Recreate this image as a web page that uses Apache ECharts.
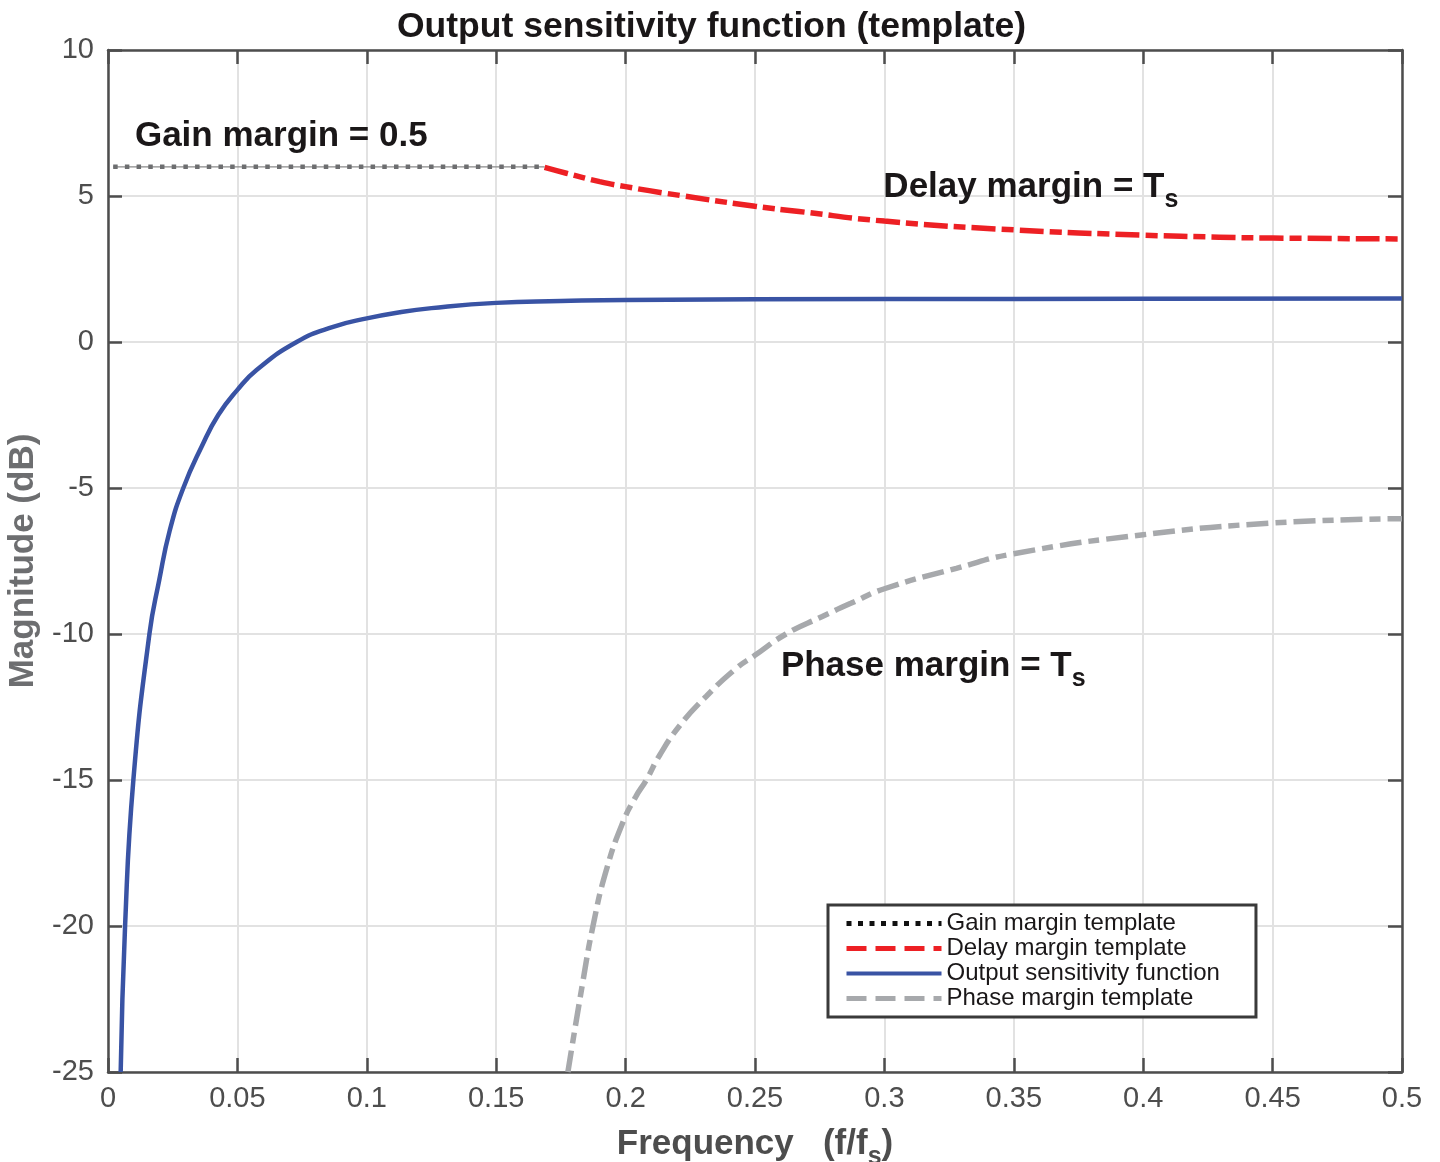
<!DOCTYPE html>
<html>
<head>
<meta charset="utf-8">
<title>Output sensitivity function (template)</title>
<script src="https://cdn.jsdelivr.net/npm/echarts@6/dist/echarts.min.js"></script>
<style>
  html, body { margin: 0; padding: 0; background: #fff; }
  #echarts { width: 1440px; height: 1162px; }
</style>
</head>
<body>
<div id="echarts"></div>
<script>
// values
var gainFreq = [0.002, 0.1687];
var gainMag  = [6, 6];

var delayFreq = [0.1687, 0.1771, 0.19, 0.2, 0.2157, 0.25, 0.267, 0.3, 0.35, 0.4, 0.4293, 0.45, 0.5];
var delayMag  = [5.98, 5.78, 5.49, 5.32, 5.09, 4.65, 4.47, 4.14, 3.84, 3.66, 3.59, 3.56, 3.53];

var sensFreq = [0.0049, 0.0066, 0.0098, 0.016, 0.0198, 0.0239, 0.0291, 0.0362, 0.0426, 0.05, 0.0574, 0.0729, 0.087, 0.1, 0.1127, 0.125, 0.15, 0.175, 0.2, 0.3, 0.4, 0.5];
var sensMag  = [-25, -20, -15, -10, -8.15, -6.44, -5, -3.58, -2.5, -1.64, -0.96, 0, 0.52, 0.81, 1.02, 1.16, 1.34, 1.4, 1.44, 1.47, 1.48, 1.49];

var phaseFreq = [0.1777, 0.1835, 0.1874, 0.1925, 0.199, 0.204, 0.208, 0.2131, 0.2208, 0.2312, 0.2427, 0.2498, 0.262, 0.276, 0.287, 0.3, 0.3278, 0.35, 0.4, 0.45, 0.5];
var phaseMag  = [-25, -21.9, -20, -18.1, -16.44, -15.56, -15, -14.16, -13.15, -12.13, -11.18, -10.74, -10, -9.4, -8.95, -8.45, -7.75, -7.25, -6.6, -6.2, -6.05];

var seriesNames = ['Gain margin template', 'Delay margin template', 'Output sensitivity function', 'Phase margin template'];

var noteFreq = [0.0104, 0.2996, 0.26];
var noteMag  = [7.04, 5.29, -11.11];
var noteText = ['Gain margin = 0.5', 'Delay margin = T{s|s}', 'Phase margin = T{s|s}'];

var xTicks = ['0', '0.05', '0.1', '0.15', '0.2', '0.25', '0.3', '0.35', '0.4', '0.45', '0.5'];

function pairs(xs, ys) {
    return xs.map(function (x, i) { return [x, ys[i]]; });
}

var FONT = '"Liberation Sans", Arial, Helvetica, sans-serif';
var AXIS = '#4d4d4d';
var INK = '#1a1718';

var myChart = echarts.init(document.getElementById('echarts'));

function axisBase(extra) {
    var a = {
        type: 'value',
        axisLine: { show: true, onZero: false, lineStyle: { color: AXIS, width: 2.5 } },
        axisTick: { show: true, inside: true, length: 14, lineStyle: { color: AXIS, width: 2.5 } },
        splitLine: { show: false },
        axisLabel: { show: false }
    };
    for (var k in extra) a[k] = extra[k];
    return a;
}

var option = {
    animation: false,
    textStyle: { fontFamily: FONT },
    title: {
        text: 'Output sensitivity function (template)',
        left: 392,
        top: 4,
        textStyle: { fontFamily: FONT, fontSize: 35.5, fontWeight: 'bold', color: INK }
    },
    grid: { left: 108, right: 38, top: 50, bottom: 90, containLabel: false, outerBoundsMode: 'none' },
    legend: {
        orient: 'vertical',
        left: 828,
        top: 905,
        itemWidth: 95,
        itemHeight: 14,
        itemGap: 0,
        padding: [6, 36, 6, 16],
        borderColor: '#3a3a3a',
        borderWidth: 3,
        backgroundColor: '#fff',
        itemStyle: { opacity: 0 },
        textStyle: { fontFamily: FONT, fontSize: 24, color: INK, lineHeight: 25 },
        data: [
            { name: seriesNames[0], itemStyle: { opacity: 0 }, lineStyle: { color: '#111', width: 5, type: [5, 6.5] } },
            { name: seriesNames[1], itemStyle: { opacity: 0 }, lineStyle: { color: '#ed2024', width: 5, type: [20, 9] } },
            { name: seriesNames[2], itemStyle: { opacity: 0 }, lineStyle: { color: '#3953a4', width: 4 } },
            { name: seriesNames[3], itemStyle: { opacity: 0 }, lineStyle: { color: '#a7a9ac', width: 5, type: [20, 9] } }
        ]
    },
    xAxis: [
        axisBase({
            min: 0, max: 0.5, interval: 0.05, position: 'bottom',
            splitLine: { show: true, lineStyle: { color: '#e2e2e2', width: 2 } },
            axisLabel: {
                show: true, margin: 12, fontSize: 29, color: AXIS, fontFamily: FONT,
                formatter: function (v) { return xTicks[Math.round(v / 0.05)]; }
            },
            name: 'Frequency   (f/f{s|s})',
            nameLocation: 'middle',
            nameGap: 37,
            nameTextStyle: {
                fontFamily: FONT, fontSize: 35, fontWeight: 'bold', color: AXIS, lineHeight: 52,
                rich: { s: { fontFamily: FONT, fontSize: 25, fontWeight: 'bold', color: AXIS, lineHeight: 22, verticalAlign: 'bottom' } }
            }
        }),
        axisBase({ min: 0, max: 0.5, interval: 0.05, position: 'top' })
    ],
    yAxis: [
        axisBase({
            min: -25, max: 10, interval: 5, position: 'left',
            splitLine: { show: true, lineStyle: { color: '#e2e2e2', width: 2 } },
            axisLabel: { show: true, margin: 14, fontSize: 29, color: AXIS, fontFamily: FONT },
            name: 'Magnitude (dB)',
            nameLocation: 'middle',
            nameGap: 61,
            nameTextStyle: { fontFamily: FONT, fontSize: 35, fontWeight: 'bold', color: '#6d6e70' }
        }),
        axisBase({ min: -25, max: 10, interval: 5, position: 'right' })
    ],
    series: [
        {
            name: seriesNames[0], type: 'line', symbol: 'none',
            data: pairs(gainFreq, gainMag),
            lineStyle: { color: '#6d6e70', width: 4.5, type: [4.5, 7.2] },
            itemStyle: { color: '#111' },
            z: 3
        },
        {
            type: 'line', symbol: 'none', silent: true,
            data: pairs(gainFreq, gainMag),
            lineStyle: { color: '#8a8a8a', width: 1.2 },
            z: 2
        },
        {
            name: seriesNames[1], type: 'line', symbol: 'none', smooth: 0.5,
            data: pairs(delayFreq, delayMag),
            lineStyle: { color: '#ed2024', width: 5.5, type: [24, 6, 12, 6] },
            itemStyle: { color: '#ed2024' },
            z: 3
        },
        {
            name: seriesNames[2], type: 'line', symbol: 'none', smooth: 0.5,
            data: pairs(sensFreq, sensMag),
            lineStyle: { color: '#3953a4', width: 4.5 },
            itemStyle: { color: '#3953a4' },
            z: 3
        },
        {
            name: seriesNames[3], type: 'line', symbol: 'none', smooth: 0.5,
            data: pairs(phaseFreq, phaseMag),
            lineStyle: { color: '#a7a9ac', width: 5.5, type: [22, 7, 11, 7] },
            itemStyle: { color: '#a7a9ac' },
            z: 3
        },
        {
            type: 'scatter', symbolSize: 0, silent: true,
            data: pairs(noteFreq, noteMag),
            itemStyle: { opacity: 1 },
            label: {
                show: true, position: 'right', distance: 0, opacity: 1,
                formatter: function (p) { return noteText[p.dataIndex]; },
                fontFamily: FONT, fontSize: 35, fontWeight: 'bold', color: INK, lineHeight: 50,
                rich: { s: { fontFamily: FONT, fontSize: 25, fontWeight: 'bold', color: INK, lineHeight: 22, verticalAlign: 'bottom' } }
            },
            z: 4
        }
    ]
};

myChart.setOption(option);
</script>
</body>
</html>
